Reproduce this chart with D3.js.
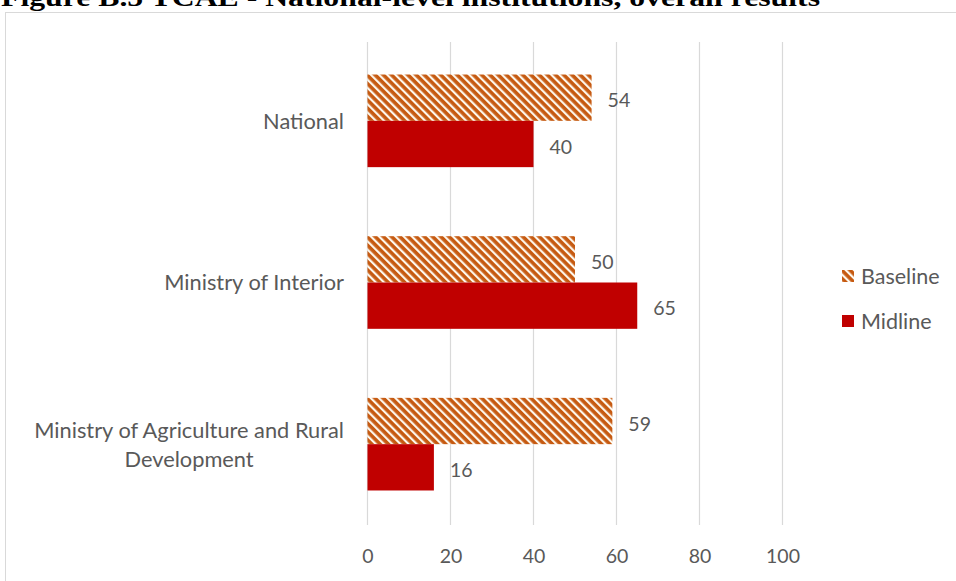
<!DOCTYPE html>
<html>
<head>
<meta charset="utf-8">
<script src="https://cdn.jsdelivr.net/npm/d3@7"></script>
<style>
  html, body { margin: 0; padding: 0; background: #fff; }
  svg { display: block; }
</style>
</head>
<body>
<svg id="chart" width="956" height="581"></svg>
<script>
// Chart data
const categories = ["National", "Ministry of Interior", "Ministry of Agriculture and Rural Development"];
const seriesNames = ["Baseline", "Midline"];
const baselineValues = [54, 50, 59];
const midlineValues = [40, 65, 16];
const xTicks = [0, 20, 40, 60, 80, 100];
const titleText = "Figure B.5 TCAE - National-level institutions, overall results";

const svg = d3.select("#chart");
const W = 956, H = 581;
const textColor = "#595959";
const labelFont = "Lato, 'Noto Sans', sans-serif";

// Hatched fill for the baseline series
const defs = svg.append("defs");
const pat = defs.append("pattern")
  .attr("id", "hatch")
  .attr("patternUnits", "userSpaceOnUse")
  .attr("width", 5.8).attr("height", 5.8)
  .attr("patternTransform", "rotate(-45)");
pat.append("rect").attr("width", 5.8).attr("height", 5.8).attr("fill", "#c65a11");
pat.append("rect").attr("x", 0).attr("width", 2.2).attr("height", 5.8).attr("fill", "#fdf8ee");

// Caption above the chart frame (runs off the top edge)
svg.append("text")
  .attr("x", 1).attr("y", 6)
  .attr("font-family", "'Liberation Serif', 'Times New Roman', serif")
  .attr("font-weight", "bold")
  .attr("font-size", 25)
  .attr("textLength", 819)
  .attr("lengthAdjust", "spacingAndGlyphs")
  .attr("fill", "#000")
  .text(titleText);

// Chart frame
svg.append("rect")
  .attr("x", 5.5).attr("y", 12.5)
  .attr("width", W + 10).attr("height", H + 10)
  .attr("fill", "#fff")
  .attr("stroke", "#d9d9d9").attr("stroke-width", 1);

// Scales
const x = d3.scaleLinear().domain([0, 100]).range([367.5, 782.5]);
const y = d3.scaleBand().domain(categories).range([40, 525])
  .paddingInner(0.427).paddingOuter(0.2135);
const ySeries = d3.scaleBand().domain(seriesNames).range([0, y.bandwidth()]);

// Vertical gridlines
svg.append("g").selectAll("line")
  .data(xTicks)
  .join("line")
  .attr("x1", d => x(d)).attr("x2", d => x(d))
  .attr("y1", 42).attr("y2", 525)
  .attr("stroke", "#d9d9d9").attr("stroke-width", 1.2);

// X axis tick labels
const xAxis = d3.axisBottom(x).tickValues(xTicks).tickSize(0).tickPadding(0);
const gx = svg.append("g").attr("transform", "translate(0,556)").call(xAxis);
gx.select(".domain").remove();
gx.selectAll("text")
  .attr("font-family", labelFont).attr("font-size", 19.5)
  .attr("fill", textColor).attr("y", 0).attr("dy", "0.36em");

// Category labels: multi-line labels are centred on their widest line,
// and the block is right-aligned against the plot
const catLines = {
  "National": ["National"],
  "Ministry of Interior": ["Ministry of Interior"],
  "Ministry of Agriculture and Rural Development": ["Ministry of Agriculture and Rural", "Development"]
};
const labelRight = 344;
categories.forEach(c => {
  const lines = catLines[c];
  const cy = y(c) + y.bandwidth() / 2;
  const lh = 29;
  const t = svg.append("text")
    .attr("font-family", labelFont).attr("font-size", 21.8)
    .attr("fill", textColor);
  const spans = lines.map((ln, i) => t.append("tspan")
    .attr("y", cy + (i - (lines.length - 1) / 2) * lh)
    .attr("dy", "0.36em")
    .text(ln));
  const widths = spans.map(s => s.node().getComputedTextLength());
  const cx = labelRight - d3.max(widths) / 2;
  t.attr("text-anchor", "middle");
  spans.forEach(s => s.attr("x", cx));
});

// Bars
const rows = categories.map((c, i) => ({ cat: c, Baseline: baselineValues[i], Midline: midlineValues[i] }));
const fills = { Baseline: "url(#hatch)", Midline: "#c00000" };

const groups = svg.append("g").selectAll("g")
  .data(rows)
  .join("g")
  .attr("transform", d => `translate(0,${y(d.cat)})`);

groups.selectAll("rect")
  .data(d => seriesNames.map(s => ({ s, v: d[s] })))
  .join("rect")
  .attr("x", x(0))
  .attr("y", d => ySeries(d.s))
  .attr("width", d => x(d.v) - x(0))
  .attr("height", ySeries.bandwidth())
  .attr("fill", d => fills[d.s]);

// Value labels
groups.selectAll("text")
  .data(d => seriesNames.map(s => ({ s, v: d[s] })))
  .join("text")
  .attr("x", d => x(d.v) + 16)
  .attr("y", d => ySeries(d.s) + ySeries.bandwidth() / 2 + 2.5)
  .attr("dy", "0.36em")
  .attr("font-family", labelFont).attr("font-size", 19.5)
  .attr("fill", textColor)
  .text(d => d.v);

// Legend
const legend = svg.append("g").attr("transform", "translate(842,276)");
seriesNames.forEach((s, i) => {
  const g = legend.append("g").attr("transform", `translate(0,${i * 45})`);
  g.append("rect").attr("x", 0).attr("y", -6).attr("width", 12).attr("height", 12).attr("fill", fills[s]);
  g.append("text").attr("x", 19).attr("y", 0).attr("dy", "0.36em")
    .attr("font-family", labelFont).attr("font-size", 21.5)
    .attr("fill", textColor).text(s);
});
</script>
</body>
</html>
